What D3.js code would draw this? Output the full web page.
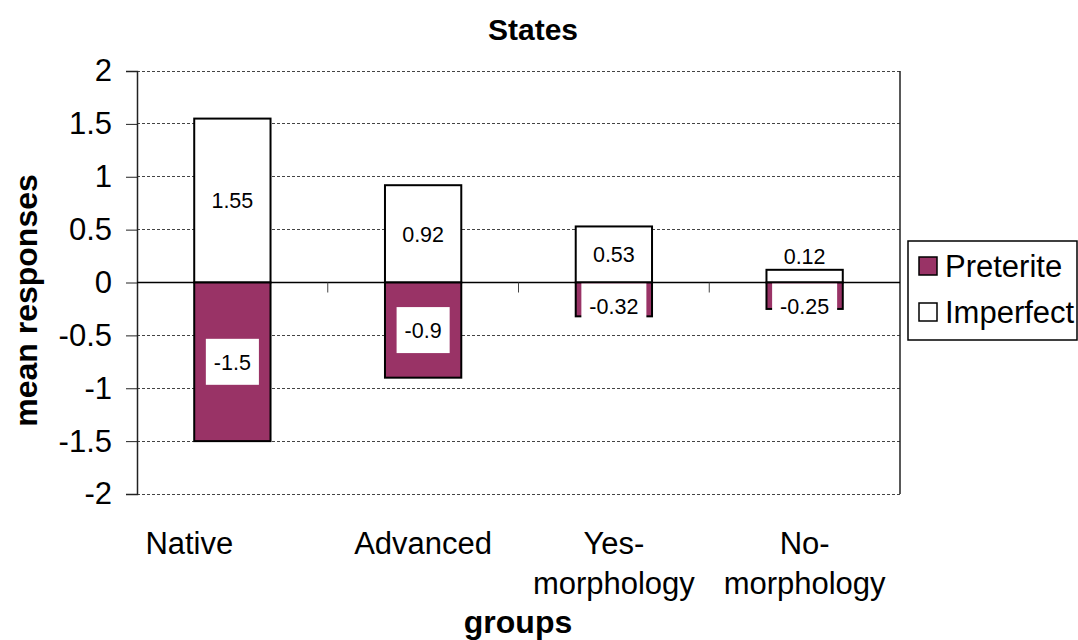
<!DOCTYPE html>
<html lang="en">
<head>
<meta charset="UTF-8">
<title>States</title>
<script src="https://d3js.org/d3.v7.min.js"></script>
<style>
    body { margin: 0; background: #fff; }
    svg { display: block; font-family: "Liberation Sans", Arial, sans-serif; }
    .grid line { stroke: #444; stroke-dasharray: 3,2; stroke-width: 1; shape-rendering: crispEdges; }
    .tick-label { font-size: 31px; fill: #000; }
    .data-label { font-size: 21.5px; fill: #000; text-anchor: middle; }
    .axis-title { font-size: 32px; font-weight: bold; text-anchor: middle; }
</style>
</head>
<body>
<svg width="1078" height="640"></svg>
<script>
    // data
    const groups = [["Native          "], ["Advanced"], ["Yes-", "morphology"], ["No-", "morphology"]];
    const preterite = [-1.5, -0.9, -0.32, -0.25];
    const imperfect = [1.55, 0.92, 0.53, 0.12];
    const seriesNames = ["Preterite", "Imperfect"];
    const seriesColors = ["#993366", "#ffffff"];
    const yTicks = [2, 1.5, 1, 0.5, 0, -0.5, -1, -1.5, -2];

    const margin = { top: 71, right: 178, bottom: 146, left: 137 };
    const W = 1078, H = 640;
    const width = W - margin.left - margin.right;
    const height = H - margin.top - margin.bottom;

    const svg = d3.select("svg");
    const g = svg.append("g").attr("transform", `translate(${margin.left},${margin.top})`);

    const x = d3.scaleBand().domain(d3.range(groups.length)).range([0, width]).padding(0);
    const y = d3.scaleLinear().domain([-2, 2]).range([height, 0]);
    const barW = x.bandwidth() * 0.4;

    // dashed gridlines
    g.append("g").attr("class", "grid")
        .selectAll("line").data(yTicks.filter(d => d !== 0)).enter()
        .append("line")
        .attr("x1", 0).attr("x2", width)
        .attr("y1", d => y(d)).attr("y2", d => y(d));

    // y axis
    const yAxis = g.append("g")
        .call(d3.axisLeft(y).tickValues(yTicks).tickSize(11).tickPadding(14).tickFormat(d => String(d)));
    yAxis.select(".domain").attr("stroke", "#222").attr("stroke-width", 1.5);
    yAxis.selectAll(".tick line").attr("stroke", "#222");
    yAxis.selectAll(".tick text").attr("class", "tick-label").attr("font-family", null).attr("font-size", null);

    // right border
    g.append("line").attr("x1", width).attr("x2", width).attr("y1", 0).attr("y2", height)
        .attr("stroke", "#222").attr("stroke-width", 1.5);

    // zero line with category ticks
    g.append("line").attr("x1", 0).attr("x2", width).attr("y1", y(0)).attr("y2", y(0))
        .attr("stroke", "#000").attr("stroke-width", 1.5);
    g.selectAll(".cat-tick").data(d3.range(1, groups.length)).enter()
        .append("line")
        .attr("x1", i => x(i)).attr("x2", i => x(i))
        .attr("y1", y(0)).attr("y2", y(0) + 10)
        .attr("stroke", "#444");

    function drawSeries(values, color) {
        g.append("g").selectAll("rect").data(values).enter()
            .append("rect")
            .attr("x", (d, i) => x(i) + (x.bandwidth() - barW) / 2)
            .attr("y", d => y(Math.max(0, d)))
            .attr("width", barW)
            .attr("height", d => Math.abs(y(d) - y(0)))
            .attr("fill", color)
            .attr("stroke", "#000")
            .attr("stroke-width", 2);
    }
    drawSeries(imperfect, seriesColors[1]);
    drawSeries(preterite, seriesColors[0]);

    // data labels
    const boxH = 46;
    function drawLabels(values, withBox) {
        values.forEach((d, i) => {
            const mid = (y(d) + y(0)) / 2;
            const cy = d < 0 ? Math.max(mid, y(0) + boxH / 2 + 1) : Math.min(mid, y(0) - 26);
            const cx = x(i) + x.bandwidth() / 2;
            const lg = g.append("g");
            const t = lg.append("text").attr("class", "data-label")
                .attr("x", cx).attr("y", cy).attr("dy", "0.36em").text(d);
            if (withBox) {
                const bw = t.node().getComputedTextLength() + 16;
                lg.insert("rect", "text")
                    .attr("x", cx - bw / 2).attr("y", cy - boxH / 2)
                    .attr("width", bw).attr("height", boxH)
                    .attr("fill", "#fff");
            }
        });
    }
    drawLabels(imperfect, false);
    drawLabels(preterite, true);

    // category labels
    const cat = g.append("g");
    groups.forEach((lines, i) => {
        const t = cat.append("text").attr("class", "tick-label")
            .attr("text-anchor", "middle")
            .attr("xml:space", "preserve")
            .style("white-space", "pre");
        lines.forEach((ln, k) => {
            t.append("tspan").attr("x", x(i) + x.bandwidth() / 2)
                .attr("y", height + 60 + k * 40).text(ln);
        });
    });

    // titles
    svg.append("text").attr("class", "axis-title").attr("x", 533).attr("y", 40)
        .style("font-size", "30px").text("States");
    svg.append("text").attr("class", "axis-title").attr("x", 518).attr("y", 633).text("groups");
    svg.append("text").attr("class", "axis-title")
        .attr("transform", `translate(37,${margin.top + height / 2 + 18}) rotate(-90)`)
        .text("mean responses");

    // legend
    const leg = svg.append("g").attr("transform", "translate(908,241)");
    leg.append("rect").attr("width", 169).attr("height", 99)
        .attr("fill", "#fff").attr("stroke", "#000").attr("stroke-width", 1.5);
    seriesNames.forEach((name, i) => {
        const row = leg.append("g").attr("transform", `translate(11,${16 + i * 46})`);
        row.append("rect").attr("width", 18).attr("height", 18)
            .attr("fill", seriesColors[i]).attr("stroke", "#000").attr("stroke-width", 1.5);
        row.append("text").attr("class", "tick-label").attr("x", 26).attr("y", 9)
            .attr("dy", "0.36em").text(name);
    });
</script>
</body>
</html>
